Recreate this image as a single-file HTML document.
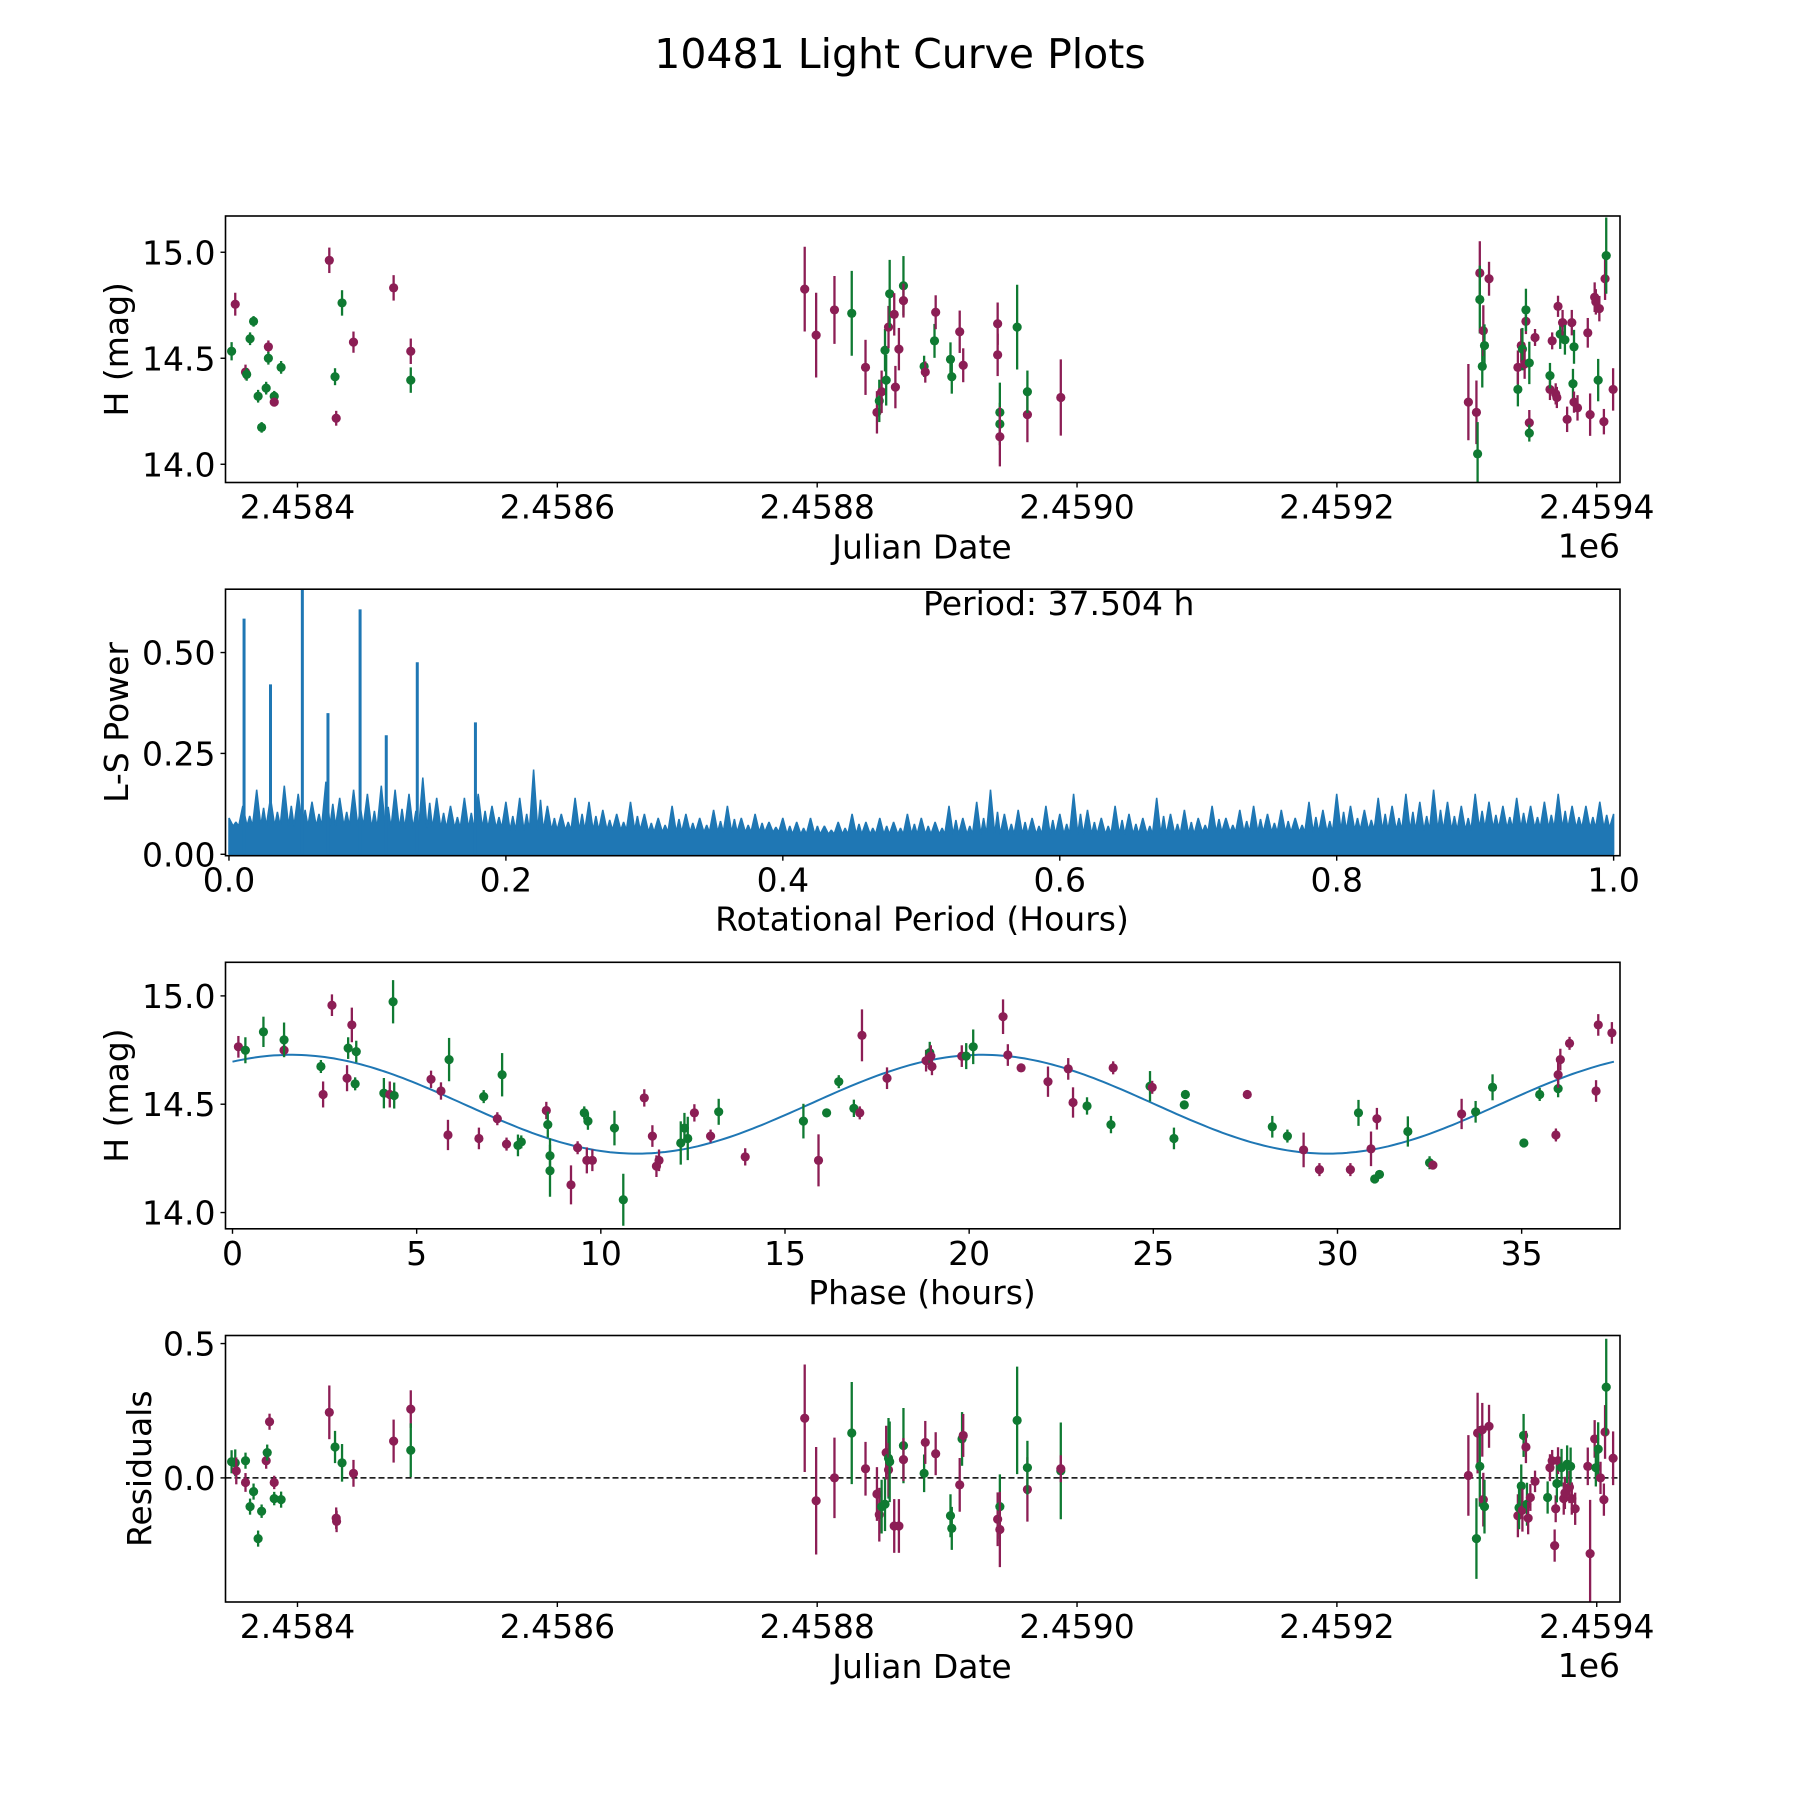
<!DOCTYPE html>
<html><head><meta charset="utf-8"><title>10481 Light Curve Plots</title>
<style>html,body{margin:0;padding:0;background:#fff}svg{display:block}text{font-family:"DejaVu Sans","Liberation Sans",sans-serif;fill:#000}</style>
</head><body>
<svg id="fig" xmlns="http://www.w3.org/2000/svg" width="1800" height="1800" viewBox="0 0 1800 1800">
<rect width="1800" height="1800" fill="#fff"/>
<text x="900" y="68" font-size="41" text-anchor="middle">10481 Light Curve Plots</text>
</svg>
<script>
// ---- data ----
// light curve rows: [JD - 2458400, H mag, error, band]
const lightCurve = [
[-50.7,14.533,0.043,'g'],[-47.9,14.755,0.054,'m'],[-40.0,14.435,0.035,'m'],[-39.1,14.424,0.03,'g'],[-36.5,14.592,0.03,'g'],[-33.8,14.674,0.025,'g'],[-30.3,14.321,0.03,'g'],[-27.6,14.174,0.025,'g'],[-24.1,14.359,0.03,'g'],[-22.4,14.554,0.03,'m'],[-22.4,14.500,0.03,'g'],[-17.9,14.321,0.025,'g'],[-17.9,14.293,0.02,'m'],[-12.6,14.457,0.03,'g'],
[24.5,14.962,0.06,'m'],[28.9,14.413,0.04,'g'],[29.8,14.217,0.035,'m'],[34.3,14.761,0.06,'g'],[43.1,14.576,0.05,'m'],[74.0,14.832,0.06,'m'],[87.2,14.533,0.06,'m'],[87.2,14.397,0.06,'g'],
[390.4,14.826,0.2,'m'],[399.2,14.609,0.2,'m'],[413.3,14.728,0.16,'m'],[426.6,14.712,0.2,'g'],[437.2,14.457,0.13,'m'],[446.0,14.245,0.1,'m'],[447.8,14.299,0.1,'g'],[449.6,14.342,0.1,'m'],[452.2,14.538,0.1,'g'],[453.1,14.397,0.12,'g'],[454.9,14.647,0.1,'m'],[455.8,14.804,0.16,'g'],[459.3,14.707,0.1,'m'],[460.2,14.364,0.1,'m'],[462.9,14.543,0.1,'m'],[466.4,14.842,0.14,'g'],[466.4,14.772,0.08,'m'],[482.3,14.462,0.05,'g'],[483.2,14.435,0.05,'m'],[490.3,14.582,0.08,'g'],[491.2,14.717,0.08,'m'],[502.6,14.495,0.08,'g'],[503.6,14.413,0.08,'g'],[509.7,14.625,0.1,'m'],[512.4,14.467,0.08,'m'],[538.9,14.663,0.1,'m'],[538.9,14.516,0.1,'m'],[540.6,14.245,0.14,'g'],[540.6,14.190,0.1,'g'],[540.6,14.130,0.14,'m'],[553.9,14.647,0.2,'g'],[561.8,14.234,0.13,'m'],[561.8,14.342,0.1,'g'],[587.5,14.315,0.18,'m'],
[901.2,14.293,0.18,'m'],[907.4,14.245,0.15,'m'],[908.3,14.049,0.15,'g'],[910.0,14.902,0.15,'m'],[910.0,14.777,0.16,'g'],[911.9,14.462,0.1,'g'],[912.7,14.630,0.12,'m'],[913.6,14.560,0.1,'g'],[917.1,14.875,0.08,'m'],[939.3,14.353,0.08,'g'],[939.3,14.457,0.08,'m'],[941.9,14.560,0.08,'m'],[942.8,14.543,0.1,'g'],[944.5,14.473,0.07,'m'],[945.5,14.674,0.06,'m'],[945.5,14.728,0.1,'g'],[948.1,14.478,0.1,'g'],[948.1,14.196,0.06,'m'],[948.1,14.147,0.04,'g'],[952.5,14.598,0.04,'m'],[964.0,14.353,0.05,'m'],[964.0,14.418,0.06,'g'],[965.7,14.582,0.04,'m'],[968.4,14.332,0.05,'m'],[969.3,14.315,0.05,'m'],[970.2,14.745,0.05,'m'],[971.9,14.614,0.07,'g'],[973.7,14.668,0.06,'m'],[975.5,14.587,0.07,'g'],[977.2,14.212,0.06,'m'],[980.8,14.668,0.06,'m'],[981.7,14.380,0.07,'g'],[982.5,14.293,0.05,'m'],[982.5,14.554,0.08,'g'],[985.2,14.266,0.06,'m'],[993.1,14.620,0.07,'m'],[994.9,14.234,0.1,'m'],[998.4,14.788,0.07,'m'],[999.3,14.766,0.06,'m'],[1001.1,14.397,0.1,'g'],[1002.0,14.734,0.06,'m'],[1005.5,14.201,0.06,'m'],[1006.4,14.875,0.1,'m'],[1007.3,14.984,0.18,'g'],[1012.6,14.353,0.1,'m']
];
// residual rows: [JD - 2458400, residual, error, band]
const residuals = [
[-50.7,0.060,0.043,'g'],[-47.9,0.056,0.05,'g'],[-47.1,0.026,0.05,'m'],[-40.0,-0.017,0.035,'m'],[-40.0,0.064,0.03,'g'],[-36.5,-0.107,0.03,'g'],[-33.8,-0.051,0.03,'g'],[-30.3,-0.226,0.03,'g'],[-27.6,-0.124,0.025,'g'],[-24.1,0.064,0.03,'m'],[-23.3,0.094,0.03,'g'],[-21.5,0.209,0.03,'m'],[-17.9,-0.017,0.025,'m'],[-17.9,-0.077,0.025,'g'],[-12.6,-0.081,0.03,'g'],
[24.5,0.244,0.1,'m'],[28.9,0.115,0.06,'g'],[29.8,-0.150,0.04,'m'],[30.1,-0.162,0.04,'m'],[34.3,0.056,0.07,'g'],[43.1,0.017,0.05,'m'],[74.0,0.137,0.08,'m'],[87.2,0.256,0.07,'m'],[87.2,0.103,0.1,'g'],
[390.4,0.222,0.2,'m'],[399.2,-0.085,0.2,'m'],[413.3,0.0,0.15,'m'],[426.6,0.167,0.19,'g'],[437.2,0.034,0.1,'m'],[446.0,-0.060,0.1,'m'],[447.8,-0.137,0.1,'m'],[449.6,-0.107,0.1,'g'],[452.2,-0.098,0.1,'g'],[453.1,0.094,0.1,'m'],[454.9,0.073,0.15,'g'],[454.9,0.030,0.1,'m'],[455.8,0.060,0.15,'g'],[459.3,-0.179,0.1,'m'],[462.9,-0.179,0.1,'m'],[466.4,0.120,0.14,'g'],[466.4,0.068,0.08,'m'],[482.3,0.017,0.07,'g'],[483.2,0.132,0.08,'m'],[491.2,0.090,0.08,'m'],[502.6,-0.141,0.08,'g'],[503.6,-0.188,0.08,'g'],[509.7,-0.026,0.1,'m'],[511.5,0.145,0.1,'g'],[512.4,0.158,0.08,'m'],[538.9,-0.154,0.1,'m'],[540.6,-0.107,0.12,'g'],[540.6,-0.192,0.14,'m'],[553.9,0.214,0.2,'g'],[561.8,-0.043,0.12,'m'],[561.8,0.038,0.1,'g'],[587.5,0.026,0.18,'g'],[587.5,0.034,0.05,'m'],
[901.2,0.009,0.15,'m'],[907.4,-0.226,0.15,'g'],[908.3,0.167,0.15,'m'],[910.0,0.043,0.15,'g'],[911.9,0.179,0.1,'m'],[912.7,-0.081,0.1,'m'],[913.6,-0.107,0.1,'g'],[917.1,0.192,0.08,'m'],[939.3,-0.141,0.08,'m'],[940.2,-0.111,0.08,'g'],[941.9,-0.030,0.08,'g'],[942.8,-0.120,0.08,'m'],[943.7,0.158,0.08,'g'],[945.5,0.115,0.06,'m'],[946.3,-0.098,0.08,'g'],[947.2,-0.150,0.06,'m'],[948.9,-0.073,0.05,'m'],[952.5,-0.013,0.04,'m'],[962.2,-0.073,0.06,'g'],[964.0,0.038,0.05,'m'],[965.7,0.064,0.04,'m'],[967.6,-0.252,0.06,'m'],[968.4,-0.115,0.05,'m'],[969.3,-0.021,0.07,'g'],[970.2,0.064,0.05,'m'],[972.9,0.038,0.07,'g'],[974.6,-0.077,0.06,'m'],[975.5,-0.056,0.06,'m'],[977.2,0.051,0.07,'g'],[979.0,-0.034,0.06,'m'],[979.9,0.043,0.07,'g'],[980.8,-0.077,0.06,'m'],[983.4,-0.115,0.06,'m'],[993.1,0.043,0.07,'m'],[994.9,-0.282,0.2,'m'],[998.4,0.145,0.07,'m'],[999.3,0.038,0.07,'g'],[1001.1,0.107,0.1,'g'],[1002.9,0.0,0.06,'m'],[1005.5,-0.081,0.06,'m'],[1006.4,0.171,0.1,'m'],[1007.3,0.338,0.18,'g'],[1012.6,0.073,0.1,'m']
];
// phase-folded rows: [phase hours, H mag, error, band]
const phased = [
[0.16,14.765,0.05,'m'],[0.35,14.749,0.06,'g'],[0.84,14.834,0.07,'g'],[1.40,14.749,0.03,'m'],[1.40,14.797,0.08,'g'],[2.40,14.674,0.03,'g'],[2.46,14.545,0.06,'m'],[2.70,14.957,0.05,'m'],[3.11,14.620,0.06,'m'],[3.14,14.759,0.05,'g'],[3.24,14.866,0.08,'m'],[3.33,14.594,0.03,'g'],[3.36,14.743,0.05,'g'],[4.11,14.551,0.07,'g'],[4.27,14.545,0.06,'m'],[4.36,14.973,0.1,'g'],[4.39,14.540,0.06,'g'],[5.39,14.615,0.04,'m'],[5.66,14.561,0.04,'m'],[5.85,14.358,0.07,'m'],[5.88,14.706,0.1,'g'],[6.82,14.535,0.03,'g'],[6.69,14.342,0.05,'m'],[7.19,14.433,0.03,'m'],[7.32,14.636,0.1,'g'],[7.44,14.316,0.03,'m'],[7.75,14.310,0.05,'g'],[7.84,14.326,0.03,'g'],[8.52,14.471,0.04,'m'],[8.56,14.406,0.06,'g'],[8.62,14.262,0.08,'g'],[8.62,14.193,0.12,'g'],[9.19,14.128,0.09,'m'],[9.37,14.299,0.03,'m'],[9.55,14.460,0.03,'g'],[9.62,14.241,0.06,'m'],[9.65,14.422,0.04,'g'],[9.77,14.241,0.05,'m'],[10.37,14.390,0.08,'g'],[10.61,14.059,0.12,'g'],[11.18,14.529,0.04,'m'],[11.40,14.353,0.05,'m'],[11.51,14.214,0.05,'m'],[11.58,14.241,0.05,'m'],[12.17,14.321,0.1,'g'],[12.27,14.390,0.07,'g'],[12.36,14.342,0.1,'g'],[12.54,14.460,0.04,'m'],[12.98,14.353,0.03,'m'],[13.20,14.465,0.06,'g'],[13.92,14.257,0.04,'m'],[15.50,14.422,0.08,'g'],[15.91,14.241,0.12,'m'],[16.13,14.460,0.02,'g'],[16.46,14.604,0.03,'g'],[16.87,14.481,0.04,'g'],[17.03,14.460,0.03,'m'],[17.09,14.818,0.12,'m'],[17.77,14.620,0.05,'m'],[18.83,14.701,0.05,'m'],[18.93,14.738,0.05,'g'],[18.96,14.722,0.05,'m'],[18.99,14.674,0.04,'m'],[19.80,14.722,0.05,'m'],[19.92,14.722,0.06,'g'],[20.11,14.765,0.08,'g'],[20.92,14.904,0.08,'m'],[21.05,14.727,0.05,'m'],[21.41,14.668,0.02,'m'],[22.14,14.604,0.07,'m'],[22.69,14.663,0.05,'m'],[22.82,14.508,0.07,'m'],[23.20,14.492,0.04,'g'],[23.85,14.406,0.04,'g'],[23.91,14.668,0.03,'m'],[24.91,14.583,0.07,'g'],[24.97,14.578,0.03,'m'],[25.56,14.342,0.05,'g'],[25.87,14.545,0.02,'g'],[25.84,14.497,0.02,'g'],[27.55,14.545,0.02,'m'],[28.23,14.396,0.05,'g'],[28.64,14.353,0.03,'g'],[29.08,14.289,0.08,'m'],[29.51,14.198,0.03,'m'],[30.35,14.198,0.03,'m'],[30.57,14.460,0.06,'g'],[30.91,14.294,0.08,'m'],[31.01,14.155,0.02,'g'],[31.07,14.433,0.05,'m'],[31.14,14.176,0.02,'g'],[31.91,14.374,0.07,'g'],[32.50,14.230,0.03,'g'],[32.59,14.219,0.02,'m'],[33.37,14.455,0.07,'m'],[33.75,14.465,0.05,'g'],[34.21,14.578,0.06,'g'],[35.06,14.321,0.02,'g'],[35.49,14.545,0.03,'g'],[35.93,14.358,0.03,'m'],[35.99,14.572,0.04,'g'],[35.99,14.636,0.06,'m'],[36.05,14.706,0.05,'m'],[36.30,14.781,0.03,'m'],[37.08,14.866,0.05,'m'],[37.02,14.561,0.05,'m'],[37.45,14.829,0.05,'m']
];
// fitted model (two humps per period)
const modelMean = [14.50];
const modelAmp = [0.228];
const modelPeakPhase = [1.6];
const modelHumpPeriod = [18.752];
const modelRange = [0, 37.504];
// periodogram: envelope heights every 0.01 h, trough levels per 0.1 h band, and tall peaks
const lsEnvelope = [0.09,0.12,0.16,0.14,0.17,0.15,0.13,0.18,0.14,0.16,0.15,0.17,0.16,0.15,0.19,0.14,0.12,0.14,0.15,0.12,0.13,0.14,0.21,0.12,0.10,0.14,0.13,0.11,0.10,0.13,0.10,0.09,0.12,0.10,0.09,0.11,0.12,0.09,0.10,0.08,0.09,0.08,0.09,0.07,0.08,0.10,0.08,0.09,0.08,0.10,0.09,0.08,0.12,0.09,0.13,0.16,0.10,0.11,0.09,0.12,0.10,0.15,0.11,0.09,0.12,0.10,0.09,0.14,0.10,0.11,0.09,0.12,0.09,0.11,0.12,0.10,0.11,0.09,0.13,0.11,0.15,0.12,0.11,0.14,0.12,0.15,0.13,0.16,0.13,0.12,0.15,0.13,0.12,0.14,0.12,0.13,0.15,0.12,0.12,0.13,0.10];
const lsTrough = [0.07,0.065,0.06,0.055,0.05,0.05,0.05,0.055,0.06,0.065];
const lsPeakPeriod = [0.0109,0.030,0.053,0.0715,0.0947,0.1136,0.136,0.178];
const lsPeakPower = [0.584,0.421,0.70,0.35,0.607,0.295,0.476,0.327];
const jdTicks = [2458400,2458600,2458800,2459000,2459200,2459400];
const jdTickLabels = ['2.4584','2.4586','2.4588','2.4590','2.4592','2.4594'];
const magTicks = [14.0,14.5,15.0];
const magTickLabels = ['14.0','14.5','15.0'];
const lsXTicks = [0,0.2,0.4,0.6,0.8,1.0];
const lsXTickLabels = ['0.0','0.2','0.4','0.6','0.8','1.0'];
const lsYTicks = [0,0.25,0.5];
const lsYTickLabels = ['0.00','0.25','0.50'];
const phaseTicks = [0,5,10,15,20,25,30,35];
const phaseTickLabels = ['0','5','10','15','20','25','30','35'];
const resTicks = [0,0.5];
const resTickLabels = ['0.0','0.5'];
const JD0 = 2458400;

// ---- drawing ----
const NS='http://www.w3.org/2000/svg';
const svg=document.getElementById('fig');
const COL={m:'#8c1e55',g:'#0f7a32'};
function el(tag,attrs,parent){const e=document.createElementNS(NS,tag);for(const k in attrs)e.setAttribute(k,attrs[k]);(parent||svg).appendChild(e);return e;}
const L=225.5,R=1620,H=266.5,TOPS=[216,589.2,962.3,1335.5];
function makeAxes(i,xlim,ylim,name){
  const top=TOPS[i],bot=top+H;
  const g=el('g',{});
  
  
  return {g,top,bot,
    x:v=>L+(v-xlim[0])/(xlim[1]-xlim[0])*(R-L),
    y:v=>bot-(v-ylim[0])/(ylim[1]-ylim[0])*H};
}
function frame(ax,name){
  const r=el('rect',{x:L,y:ax.top,width:R-L,height:H,fill:'none',stroke:'#000','stroke-width':1.6},ax.g);
  
  
}
function xTicks(ax,vals,labels,name){
  const g=el('g',{},ax.g);
  
  
  vals.forEach((v,k)=>{const px=ax.x(v);
    el('line',{x1:px,x2:px,y1:ax.bot,y2:ax.bot+5,stroke:'#000','stroke-width':1.4},g);
    const t=el('text',{x:px,y:ax.bot+36,'font-size':33,'text-anchor':'middle'},g);t.textContent=labels[k];});
}
function yTicks(ax,vals,labels,name){
  const g=el('g',{},ax.g);
  
  
  vals.forEach((v,k)=>{const py=ax.y(v);
    el('line',{x1:L-5,x2:L,y1:py,y2:py,stroke:'#000','stroke-width':1.4},g);
    const t=el('text',{x:L-10,y:py+12,'font-size':33,'text-anchor':'end'},g);t.textContent=labels[k];});
}
function label(txt,x,y,rot,name,anchor){
  const t=el('text',{x:x,y:y,'font-size':33,'text-anchor':anchor||'middle'});
  if(rot)t.setAttribute('transform','rotate(-90 '+x+' '+y+')');
  t.textContent=txt;
  
  
}
function clip(ax,id){const c=el('clipPath',{id:id});el('rect',{x:L,y:ax.top,width:R-L,height:H},c);return 'url(#'+id+')';}
function errorPoints(ax,rows,xi,name,cp){
  const g=el('g',{'clip-path':cp},ax.g);
  
  
  rows.forEach(r=>{const px=ax.x(xi(r[0])),c=COL[r[3]];
    const ln=el('line',{x1:px,x2:px,y1:ax.y(r[1]-r[2]),y2:ax.y(r[1]+r[2]),stroke:c,'stroke-width':2.3},g);
    
    
    const d=el('circle',{cx:px,cy:ax.y(r[1]),r:4.6,fill:c},g);
    
    
  });
}
const jdLim=[2458344.6,2459417.9];
// Panel 1
const a1=makeAxes(0,jdLim,[13.914,15.171],'light-curve-panel');
errorPoints(a1,lightCurve,v=>v+JD0,'light-curve-points',clip(a1,'c1'));
frame(a1,'light-curve-frame');
xTicks(a1,jdTicks,jdTickLabels,'light-curve-x-ticks');
yTicks(a1,magTicks,magTickLabels,'light-curve-y-ticks');
label('Julian Date',922,a1.bot+76,false,'light-curve-x-title');
label('1e6',1620,a1.bot+75,false,'light-curve-x-offset','end');
label('H (mag)',128,(a1.top+a1.bot)/2,true,'light-curve-y-title');
// Panel 2
const a2=makeAxes(1,[-0.0025,1.0046],[-0.0035,0.657],'periodogram-panel');
(function(){
  const cp=clip(a2,'c2');
  let d='M'+a2.x(0)+','+a2.y(0);
  lsEnvelope.forEach((h,k)=>{const p=k*0.01;
    d+=' L'+a2.x(p).toFixed(1)+','+a2.y(h).toFixed(1);
    if(k<lsEnvelope.length-1){const tr=lsTrough[Math.min(9,Math.floor(k/10))];
      d+=' L'+a2.x(p+0.003).toFixed(1)+','+a2.y(tr).toFixed(1);
      d+=' L'+a2.x(p+0.005).toFixed(1)+','+a2.y((h+tr)/2).toFixed(1);
      d+=' L'+a2.x(p+0.007).toFixed(1)+','+a2.y(tr).toFixed(1);}
  });
  d+=' L'+a2.x(1)+','+a2.y(0)+' Z';
  const pa=el('path',{d:d,fill:'#1f77b4',stroke:'#1f77b4','stroke-width':1.5,'stroke-linejoin':'bevel','clip-path':cp},a2.g);
  
  
  lsPeakPeriod.forEach((p,k)=>{
    const s=el('line',{x1:a2.x(p),x2:a2.x(p),y1:a2.y(0),y2:a2.y(lsPeakPower[k]),stroke:'#1f77b4','stroke-width':3,'clip-path':cp},a2.g);
    
    
  });
})();
frame(a2,'periodogram-frame');
xTicks(a2,lsXTicks,lsXTickLabels,'periodogram-x-ticks');
yTicks(a2,lsYTicks,lsYTickLabels,'periodogram-y-ticks');
label('Rotational Period (Hours)',922,a2.bot+75,false,'periodogram-x-title');
label('L-S Power',128,(a2.top+a2.bot)/2,true,'periodogram-y-title');
label('Period: 37.504 h',923,615,false,'period-annotation','start');
// Panel 3
const a3=makeAxes(2,[-0.19,37.67],[13.925,15.155],'phase-panel');
(function(){
  const cp=clip(a3,'c3');
  let d='';
  for(let k=0;k<=300;k++){const p=modelRange[0]+(modelRange[1]-modelRange[0])*k/300;
    const m=modelMean[0]+modelAmp[0]*Math.cos(2*Math.PI*(p-modelPeakPhase[0])/modelHumpPeriod[0]);
    d+=(k?' L':'M')+a3.x(p).toFixed(1)+','+a3.y(m).toFixed(1);}
  const pa=el('path',{d:d,fill:'none',stroke:'#1f77b4','stroke-width':2,'clip-path':cp},a3.g);
  
  
  errorPoints(a3,phased,v=>v,'phase-points',cp);
})();
frame(a3,'phase-frame');
xTicks(a3,phaseTicks,phaseTickLabels,'phase-x-ticks');
yTicks(a3,magTicks,magTickLabels,'phase-y-ticks');
label('Phase (hours)',922,a3.bot+75,false,'phase-x-title');
label('H (mag)',128,(a3.top+a3.bot)/2,true,'phase-y-title');
// Panel 4
const a4=makeAxes(3,jdLim,[-0.462,0.53],'residuals-panel');
(function(){
  const cp=clip(a4,'c4');
  const z=el('line',{x1:L,x2:R,y1:a4.y(0),y2:a4.y(0),stroke:'#000','stroke-width':1.6,'stroke-dasharray':'6,3'},a4.g);
  
  
  errorPoints(a4,residuals,v=>v+JD0,'residual-points',cp);
})();
frame(a4,'residuals-frame');
xTicks(a4,jdTicks,jdTickLabels,'residuals-x-ticks');
yTicks(a4,resTicks,resTickLabels,'residuals-y-ticks');
label('Julian Date',922,a4.bot+76,false,'residuals-x-title');
label('1e6',1620,a4.bot+75,false,'residuals-x-offset','end');
label('Residuals',151,(a4.top+a4.bot)/2,true,'residuals-y-title');
</script>
</body></html>
